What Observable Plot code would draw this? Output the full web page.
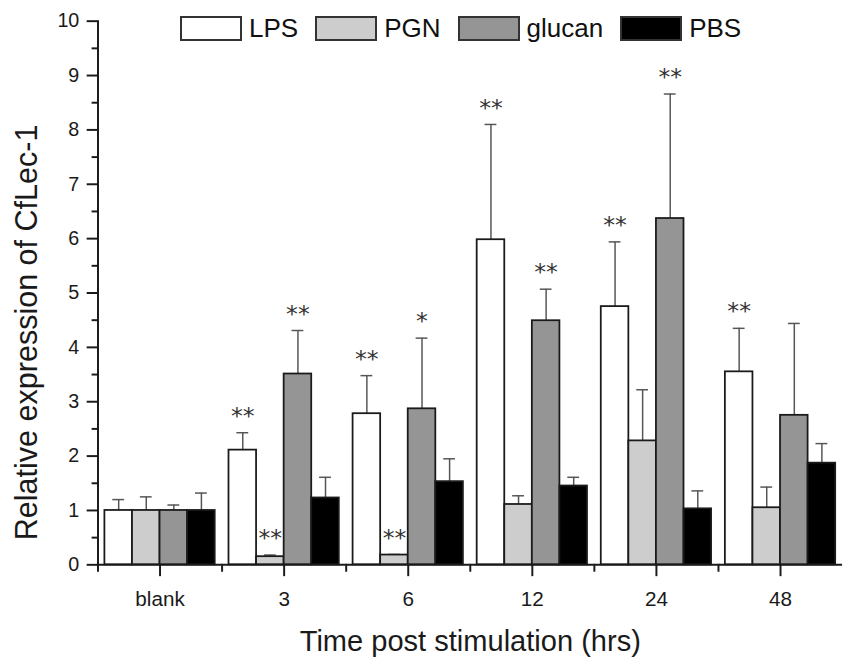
<!DOCTYPE html>
<html>
<head>
<meta charset="utf-8">
<script src="https://cdn.jsdelivr.net/npm/d3@7"></script>
<script src="https://cdn.jsdelivr.net/npm/@observablehq/plot@0.6"></script>
<style>
  html, body { margin: 0; padding: 0; background: #fff; overflow: hidden; }
  #wrap { position: relative; width: 847px; height: 658px; overflow: hidden; background: #fff; }
  #chart { position: absolute; left: 0; top: 0; }
  #legend { position: absolute; left: 181px; top: 12px; }
  #legend > div { font-family: "Liberation Sans", Arial, sans-serif; font-size: 26px; color: #111; margin: 0; }
  #legend [class$="-swatch"] { margin-right: 18px; }
  #legend svg { margin-right: 8px; }
  #legend rect { stroke: #333; stroke-width: 2; }
  g[aria-label="fx-axis label"] { font-size: 29.5px; }
</style>
</head>
<body>
<div id="wrap"><div id="chart"></div><div id="legend"></div></div>
<script>
// ---- data ----
const categories = ["blank", "3", "6", "12", "24", "48"];
const series = ["LPS", "PGN", "glucan", "PBS"];
const colors = ["#ffffff", "#cdcdcd", "#959595", "#000000"];

const lpsMean    = [1.00, 2.11, 2.78, 5.98, 4.75, 3.55];
const lpsSD      = [0.20, 0.32, 0.70, 2.12, 1.19, 0.80];
const pgnMean    = [1.00, 0.15, 0.18, 1.11, 2.28, 1.05];
const pgnSD      = [0.25, 0.03, 0.01, 0.16, 0.94, 0.38];
const glucanMean = [1.00, 3.51, 2.87, 4.49, 6.37, 2.75];
const glucanSD   = [0.10, 0.80, 1.30, 0.58, 2.29, 1.69];
const pbsMean    = [1.00, 1.23, 1.53, 1.45, 1.03, 1.87];
const pbsSD      = [0.32, 0.38, 0.42, 0.16, 0.33, 0.36];

const lpsSig    = ["", "**", "**", "**", "**", "**"];
const pgnSig    = ["", "**", "**", "", "", ""];
const glucanSig = ["", "**", "*", "**", "**", ""];
const pbsSig    = ["", "", "", "", "", ""];

const yTicks = [0, 1, 2, 3, 4, 5, 6, 7, 8, 9, 10];
const xTitle = "Time post stimulation (hrs)";
const yTitle = "Relative expression of CfLec-1";

// ---- table for the library ----
const means = [lpsMean, pgnMean, glucanMean, pbsMean];
const sds = [lpsSD, pgnSD, glucanSD, pbsSD];
const sigs = [lpsSig, pgnSig, glucanSig, pbsSig];
const rows = [];
categories.forEach((c, i) => series.forEach((s, j) => rows.push({
  cat: c, series: s, mean: means[j][i], top: means[j][i] + sds[j][i], sig: sigs[j][i]
})));

const FONT = '"Liberation Sans", Arial, sans-serif';
const W = 860, H = 658, ML = 99, MR = 5, MT = 21, MB = 85;
const INK = "#1a1a1a";

const plot = Plot.plot({
  width: W, height: H,
  marginLeft: ML, marginRight: MR, marginTop: MT, marginBottom: MB,
  style: { fontFamily: FONT, background: "transparent", color: INK, overflow: "visible" },
  fx: { domain: categories, padding: 0, axis: null },
  x: { domain: series, paddingInner: 0, paddingOuter: 0.21, axis: null },
  y: { domain: [0, 10], axis: null },
  color: { domain: series, range: colors },
  marks: [
    Plot.ruleX(rows, { fx: "cat", x: "series", y1: "mean", y2: "top", stroke: "#555", strokeWidth: 1.5 }),
    Plot.tickY(rows, { fx: "cat", x: "series", y: "top", stroke: "#555", strokeWidth: 1.5, insetLeft: 8, insetRight: 8 }),
    Plot.barY(rows, { fx: "cat", x: "series", y: "mean", fill: "series", stroke: INK, strokeWidth: 1.8 }),
    Plot.text(rows, { filter: d => d.sig, fx: "cat", x: "series", y: "top", text: "sig",
      fontFamily: "DejaVu Sans", fontSize: 24, lineAnchor: "bottom", dy: -9, fill: "#333" }),
    Plot.ruleY([0], { stroke: INK, strokeWidth: 2 }),
    Plot.frame({ anchor: "left", facetAnchor: "left", stroke: INK, strokeWidth: 2 }),
    Plot.frame({ anchor: "left", insetTop: H - MT - MB, insetBottom: -6, stroke: INK, strokeWidth: 2 }),
    Plot.axisFx({ anchor: "bottom", label: xTitle, labelArrow: "none", labelAnchor: "center", labelOffset: 88,
      tickSize: 12, tickPadding: 15, fontSize: 21, strokeWidth: 2, stroke: INK, fill: INK }),
    Plot.axisY({ ticks: yTicks, tickSize: 11, tickPadding: 8, fontSize: 20, strokeWidth: 2, stroke: INK, fill: INK,
      label: null }),
    Plot.axisY({ ticks: d3.range(0.5, 10, 1), tickSize: 6, tickFormat: () => "", label: null, strokeWidth: 2, stroke: INK }),
    Plot.text([yTitle], { facetAnchor: "left", frameAnchor: "left", text: d => d, rotate: -90,
      textAnchor: "middle", lineAnchor: "top", dx: -84, dy: 40, fontSize: 31, fill: INK })
  ]
});
document.getElementById("chart").appendChild(plot);

const legend = Plot.legend({
  color: { type: "ordinal", domain: series, range: colors },
  swatchWidth: 60, swatchHeight: 23
});
document.getElementById("legend").appendChild(legend);
</script>
</body>
</html>
